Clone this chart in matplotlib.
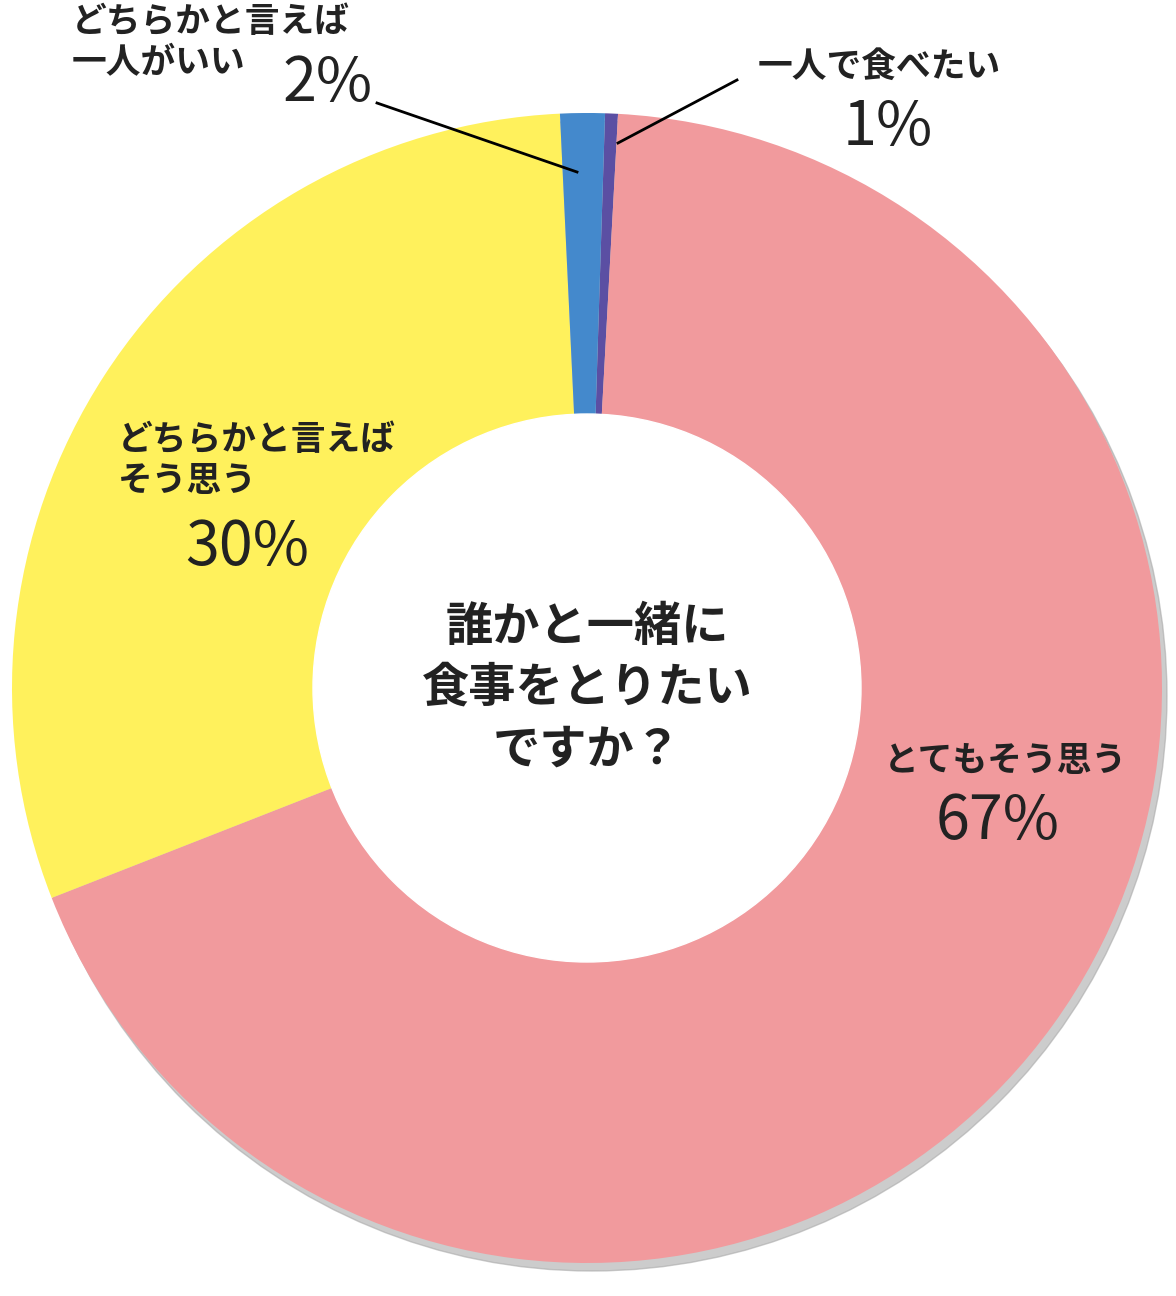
import matplotlib
matplotlib.use("Agg")
import matplotlib.pyplot as plt
from matplotlib.patches import Circle

labels = ["一人で食べたい", "とてもそう思う", "どちらかと言えば\nそう思う", "どちらかと言えば\n一人がいい"]
values = [0.36, 68.2, 30.2, 1.25]
pct_text = ["1%", "67%", "30%", "2%"]
colors = ["#5B4FA3", "#F19A9D", "#FFF15C", "#4489CC"]

plt.rcParams['font.family'] = ['Noto Sans CJK JP', 'DejaVu Sans']
fig = plt.figure(figsize=(11.76, 12.96), dpi=100)
ax = fig.add_axes([0, 0, 1, 1])
H = 1296
cx, cy, R = 587, H - 688, 575

ax.add_patch(Circle((cx + 5, cy - 8), R, color="#aaaaaa", alpha=0.6, zorder=0))
ax.pie(values, colors=colors, startangle=88.2, counterclock=False, center=(cx, cy), radius=R,
       wedgeprops=dict(width=R - 274, linewidth=0), frame=True)
ax.add_patch(Circle((cx, cy), 274, color="white", zorder=5))
ax.set_xlim(0, 1176); ax.set_ylim(0, 1296); ax.set_aspect('equal'); ax.axis('off')

ax.text(cx, H - 688, "誰かと一緒に\n食事をとりたい\nですか？", ha='center', va='center',
        fontsize=34, fontweight='bold', linespacing=1.35, color="#222222", zorder=6)

def t(x, y, s, fs, ha='left', w='bold'):
    ax.text(x, H - y, s, fontsize=fs, fontweight=w, ha=ha, va='center', color="#222222",
            linespacing=1.2, zorder=6)

t(758, 66, labels[0], 25)
t(888, 128, pct_text[0], 44, 'center', 'normal')
t(1005, 760, labels[1], 25, 'center')
t(998, 822, pct_text[1], 44, 'center', 'normal')
t(118, 460, labels[2], 25)
t(247, 548, pct_text[2], 44, 'center', 'normal')
t(72, 42, labels[3], 25)
t(328, 84, pct_text[3], 44, 'center', 'normal')

ax.plot([377, 577], [H - 103, H - 172], color='black', lw=2, zorder=6)
ax.plot([737, 618], [H - 80, H - 143], color='black', lw=2, zorder=6)

fig.savefig("out.png", dpi=100)
